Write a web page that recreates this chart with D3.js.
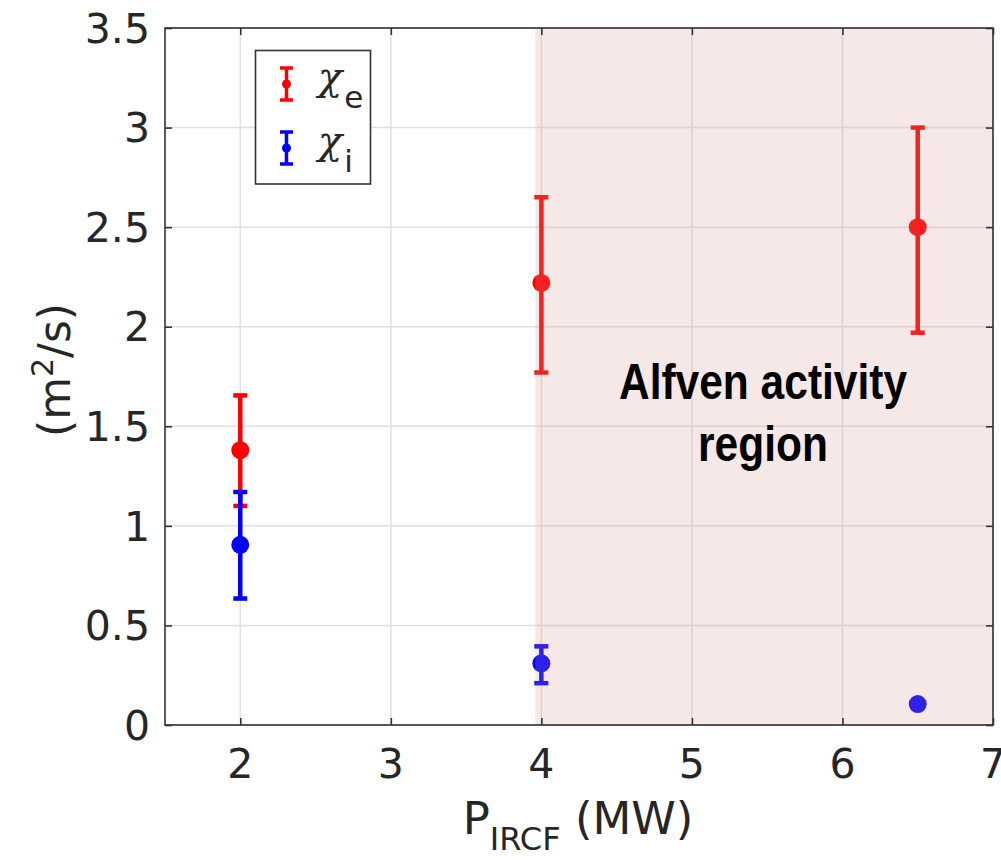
<!DOCTYPE html>
<html><head><meta charset="utf-8">
<script src="https://cdn.jsdelivr.net/npm/d3@7"></script>
<style>body{margin:0;background:#fff;} svg{display:block}</style>
</head><body><svg id="c" width="1001" height="860"></svg>
<script>
// ---- data ----
const powers = [2, 4, 6.5];
const chiE = [1.38, 2.22, 2.50];
const chiELow = [1.10, 1.77, 1.97];
const chiEHigh = [1.655, 2.65, 3.00];
const chiI = [0.905, 0.31, 0.105];
const chiILow = [0.635, 0.21, 0.105];
const chiIHigh = [1.17, 0.395, 0.105];
const xTicks = [2, 3, 4, 5, 6, 7];
const xTickLabels = ["2", "3", "4", "5", "6", "7"];
const yTicks = [0, 0.5, 1, 1.5, 2, 2.5, 3, 3.5];
const yTickLabels = ["0", "0.5", "1", "1.5", "2", "2.5", "3", "3.5"];
const alfvenRegion = [3.96, 7];
const seriesNames = ["e", "i"];
const seriesColors = ["#ff0000", "#0000ff"];

// ---- layout ----
const svg = d3.select("#c");
const L = 165, R = 993, T = 28, B = 725;
const x = d3.scaleLinear().domain([1.5, 7]).range([L, R]);
const y = d3.scaleLinear().domain([0, 3.5]).range([B, T]);
const axisColor = "#333333";
const gridColor = "#e0e0e0";
const sans = "DejaVu Sans, sans-serif";

// grid
const g = svg.append("g");
g.selectAll("line.gx").data(xTicks).enter().append("line")
  .attr("x1", d => x(d)).attr("x2", d => x(d)).attr("y1", T).attr("y2", B)
  .attr("stroke", gridColor).attr("stroke-width", 1.5);
g.selectAll("line.gy").data(yTicks).enter().append("line")
  .attr("y1", d => y(d)).attr("y2", d => y(d)).attr("x1", L).attr("x2", R)
  .attr("stroke", gridColor).attr("stroke-width", 1.5);

// series
const series = [
  {vals: chiE, lo: chiELow, hi: chiEHigh, color: seriesColors[0]},
  {vals: chiI, lo: chiILow, hi: chiIHigh, color: seriesColors[1]}
];
series.forEach(s => {
  const sg = svg.append("g");
  powers.forEach((p, i) => {
    const cx = x(p);
    sg.append("line").attr("x1", cx).attr("x2", cx)
      .attr("y1", y(s.lo[i])).attr("y2", y(s.hi[i]))
      .attr("stroke", s.color).attr("stroke-width", 4.5);
    [s.lo[i], s.hi[i]].forEach(v => {
      sg.append("line").attr("x1", cx - 7).attr("x2", cx + 7)
        .attr("y1", y(v)).attr("y2", y(v))
        .attr("stroke", s.color).attr("stroke-width", 4.5);
    });
    sg.append("circle").attr("cx", cx).attr("cy", y(s.vals[i])).attr("r", 9)
      .attr("fill", s.color);
  });
});

// alfven region overlay
svg.append("rect")
  .attr("x", x(alfvenRegion[0])).attr("y", T)
  .attr("width", x(alfvenRegion[1]) - x(alfvenRegion[0])).attr("height", B - T)
  .attr("fill", "rgb(220,150,150)").attr("fill-opacity", 0.22);

// annotation
const ann = svg.append("g").attr("transform", "translate(763,0) scale(0.85,1)");
ann.append("text").attr("x", 0).attr("y", 399).attr("text-anchor", "middle")
  .attr("font-family", "Liberation Sans, Arial, sans-serif").attr("font-weight", "bold")
  .attr("font-size", 50).attr("fill", "#000").text("Alfven activity");
ann.append("text").attr("x", 0).attr("y", 461).attr("text-anchor", "middle")
  .attr("font-family", "Liberation Sans, Arial, sans-serif").attr("font-weight", "bold")
  .attr("font-size", 50).attr("fill", "#000").text("region");

// axes box
svg.append("rect").attr("x", L).attr("y", T).attr("width", R - L).attr("height", B - T)
  .attr("fill", "none").attr("stroke", axisColor).attr("stroke-width", 1.6);

// ticks
const tl = 7;
const axB = svg.append("g").attr("transform", `translate(0,${B})`)
  .call(d3.axisBottom(x).tickValues(xTicks).tickSizeInner(-tl).tickSizeOuter(0).tickFormat(() => ""));
const axT = svg.append("g").attr("transform", `translate(0,${T})`)
  .call(d3.axisTop(x).tickValues(xTicks).tickSizeInner(-tl).tickSizeOuter(0).tickFormat(() => ""));
const axL = svg.append("g").attr("transform", `translate(${L},0)`)
  .call(d3.axisLeft(y).tickValues(yTicks).tickSizeInner(-tl).tickSizeOuter(0).tickFormat(() => ""));
const axR = svg.append("g").attr("transform", `translate(${R},0)`)
  .call(d3.axisRight(y).tickValues(yTicks).tickSizeInner(-tl).tickSizeOuter(0).tickFormat(() => ""));
[axB, axT, axL, axR].forEach(a => {
  a.select(".domain").remove();
  a.selectAll(".tick line").attr("stroke", axisColor).attr("stroke-width", 1.6);
});

// tick labels
svg.append("g").selectAll("text").data(xTicks).enter().append("text")
  .attr("x", d => x(d)).attr("y", 778).attr("text-anchor", "middle")
  .attr("font-family", sans).attr("font-size", 41).attr("fill", "#262626")
  .text((d, i) => xTickLabels[i]);
svg.append("g").selectAll("text").data(yTicks).enter().append("text")
  .attr("x", 150).attr("y", d => y(d)).attr("dy", "0.36em").attr("text-anchor", "end")
  .attr("font-family", sans).attr("font-size", 41).attr("fill", "#262626")
  .text((d, i) => yTickLabels[i]);

// x label
const xl = svg.append("text").attr("x", 578).attr("y", 834).attr("text-anchor", "middle")
  .attr("font-family", sans).attr("font-size", 45).attr("fill", "#262626");
xl.append("tspan").text("P");
xl.append("tspan").attr("dy", 16).attr("font-size", 32).text("IRCF");
xl.append("tspan").attr("dy", -16).text(" (MW)");

// y label
const yl = svg.append("text").attr("transform", "translate(70,370) rotate(-90)")
  .attr("text-anchor", "middle").attr("font-family", sans).attr("font-size", 44).attr("fill", "#262626");
yl.append("tspan").text("(m");
yl.append("tspan").attr("dy", -17).attr("font-size", 30).text("2");
yl.append("tspan").attr("dy", 17).text("/s)");

// legend
const lg = svg.append("g");
lg.append("rect").attr("x", 255.5).attr("y", 50.5).attr("width", 115).attr("height", 133.5)
  .attr("fill", "#fff").attr("stroke", axisColor).attr("stroke-width", 1.6);
const legY = [84, 148];
series.forEach((s, k) => {
  const cy = legY[k], cx = 286.5;
  lg.append("line").attr("x1", cx).attr("x2", cx).attr("y1", cy - 16).attr("y2", cy + 16)
    .attr("stroke", s.color).attr("stroke-width", 3.5);
  [cy - 16, cy + 16].forEach(v => lg.append("line").attr("x1", cx - 6.5).attr("x2", cx + 6.5)
    .attr("y1", v).attr("y2", v).attr("stroke", s.color).attr("stroke-width", 3.5));
  lg.append("circle").attr("cx", cx).attr("cy", cy).attr("r", 4.5).attr("fill", s.color);
  const t = lg.append("text").attr("x", 318).attr("y", cy + 6).attr("fill", "#262626");
  t.append("tspan").attr("font-family", "DejaVu Serif, serif").attr("font-style", "italic")
    .attr("font-size", 40).text("χ");
  t.append("tspan").attr("dy", 18).attr("dx", 2).attr("font-family", sans).attr("font-size", 31).text(seriesNames[k]);
});
</script>
</body></html>
